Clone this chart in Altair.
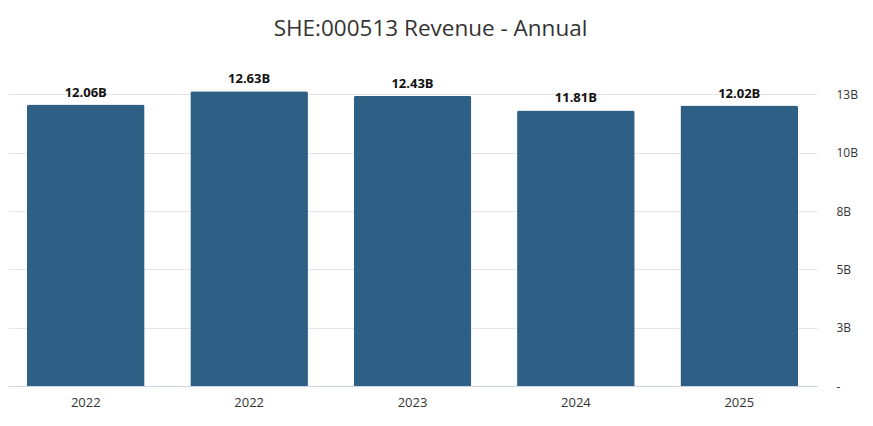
import altair as alt
import pandas as pd

years = ["2022", "2022", "2023", "2024", "2025"]
revenue_b = [12.06, 12.63, 12.43, 11.81, 12.02]
labels = ["12.06B", "12.63B", "12.43B", "11.81B", "12.02B"]
y_ticks = [0, 2.5, 5, 7.5, 10, 12.5]

df = pd.DataFrame({
    "idx": list(range(len(years))),
    "year": years,
    "rev": revenue_b,
    "label": labels,
})

year_map = "{" + ",".join(f"'{i}':'{y}'" for i, y in enumerate(years)) + "}"

x = alt.X(
    "idx:O",
    title=None,
    scale=alt.Scale(paddingInner=0.28, paddingOuter=0.116),
    axis=alt.Axis(
        labelExpr=f"{year_map}[datum.value]",
        labelAngle=0,
        labelFont="Open Sans",
        labelFontSize=13,
        labelColor="#333333",
        labelPadding=10,
        ticks=False,
        domain=True,
        domainColor="#ccd6eb",
        domainWidth=1,
        grid=False,
    ),
)

y = alt.Y(
    "rev:Q",
    title=None,
    scale=alt.Scale(domain=[0, 13.5], nice=False),
    axis=alt.Axis(
        orient="right",
        values=y_ticks,
        labelExpr="datum.value == 0 ? '-' : format(round(datum.value), 'd') + 'B'",
        labelFont="Open Sans",
        labelFontSize=12,
        labelColor="#333333",
        labelAlign="left",
        labelPadding=19,
        ticks=False,
        domain=False,
        grid=True,
        gridColor="#e6e6e6",
        gridWidth=1,
    ),
)

bars = alt.Chart(df).mark_bar(
    color="#2e6086", cornerRadiusTopLeft=2, cornerRadiusTopRight=2
).encode(x=x, y=y)

text = alt.Chart(df).mark_text(
    dy=-5, baseline="bottom", font="Open Sans", fontSize=13, fontWeight="bold", color="#111111"
).encode(x=alt.X("idx:O"), y=alt.Y("rev:Q"), text="label:N")

chart = alt.layer(bars, text).properties(
    width=809,
    height=315,
    title=alt.TitleParams(
        "SHE:000513 Revenue - Annual",
        font="Open Sans",
        fontSize=22.5,
        fontWeight="normal",
        color="#333333",
        anchor="middle",
        dx=18,
        offset=31,
    ),
    padding={"left": 0, "top": 9, "right": 0, "bottom": 0},
).configure_view(stroke=None)

chart.save("out.html", embed_options={"renderer": "svg", "actions": False})
